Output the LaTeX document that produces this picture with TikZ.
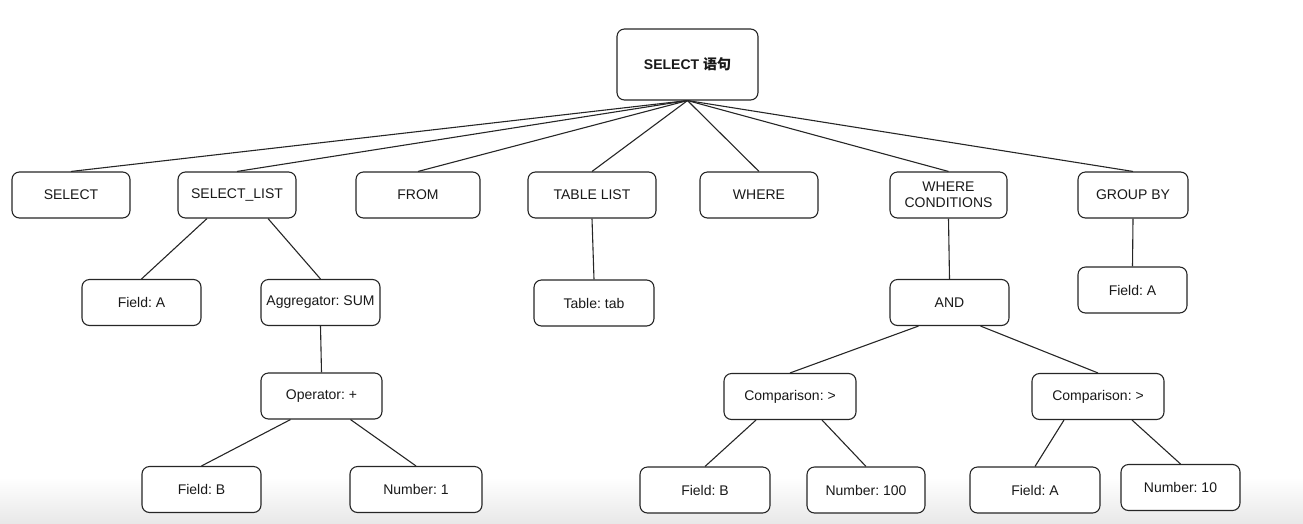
\documentclass[tikz,border=0pt]{standalone}
\usepackage{fontspec}
\setmainfont{Liberation Sans}
\newfontfamily\cjk{Noto Sans CJK SC}
\usetikzlibrary{calc}
\frenchspacing
\tikzset{
  box/.style={draw=black!85, fill=white, line width=1.1pt, rounded corners=7.5pt,
    minimum width=#1, minimum height=46pt, inner sep=2pt, align=center,
    font=\frenchspacing\fontsize{14}{16}\selectfont, text=black!90},
  box/.default=118pt,
  edge/.style={draw=black!85, line width=1.1pt}
}
\begin{document}
\begin{tikzpicture}[x=1pt,y=-1pt]
\useasboundingbox (0,0) rectangle (1303,523);
\shade[top color=white, bottom color=black!9] (0,478) rectangle (1303,523);

\node[box=141pt, minimum height=71pt, font=\bfseries\fontsize{14}{16}\selectfont] (root) at (687.5,64.5) {SELECT {\cjk\bfseries 语句}};

\node[box=118pt] (sel) at (71,195) {SELECT};
\node[box=118pt] (sellist) at (237,195) {SELECT\_LIST};
\node[box=124pt] (from) at (418,195) {FROM};
\node[box=128pt] (tlist) at (592,195) {TABLE LIST};
\node[box=118pt] (where) at (759,195) {WHERE};
\node[box=117pt] (wcond) at (948.5,195) {WHERE\\CONDITIONS};
\node[box=110pt] (group) at (1133,195) {GROUP BY};

\node[box=119pt] (fa) at (141.5,302.5) {Field: A};
\node[box=119pt] (agg) at (320.5,302.5) {Aggregator: SUM};
\node[box=120pt] (tab) at (594,303) {Table: tab};
\node[box=119pt] (and) at (949.5,302.5) {AND};
\node[box=109pt] (ga) at (1132.5,290) {Field: A};

\node[box=121pt] (op) at (321.5,396) {Operator: +};
\node[box=132pt] (cmpa) at (790,396.5) {Comparison: >};
\node[box=132pt] (cmpb) at (1098,396.5) {Comparison: >};

\node[box=119pt] (fb) at (201.5,489.5) {Field: B};
\node[box=132pt] (nb) at (416,489.5) {Number: 1};
\node[box=130pt] (fbb) at (705,490) {Field: B};
\node[box=118pt] (nc) at (866,490) {Number: 100};
\node[box=130pt] (fab) at (1035,490) {Field: A};
\node[box=119pt] (nd) at (1180.5,487.5) {Number: 10};

\foreach \c in {sel,sellist,from,tlist,where,wcond,group}
  \draw[edge] (root.south) -- (\c.north);

\draw[edge] (agg.south) -- (op.north);
\draw[edge] (tlist.south) -- (tab.north);
\draw[edge] (wcond.south) -- (and.north);
\draw[edge] (group.south) -- (ga.north);

\draw[edge] ($(sellist.south)+(-30,0)$) -- (fa.north);
\draw[edge] ($(sellist.south)+(31,0)$) -- (agg.north);
\draw[edge] ($(op.south)+(-31,0)$) -- (fb.north);
\draw[edge] ($(op.south)+(29,0)$) -- (nb.north);
\draw[edge] ($(and.south)+(-31,0)$) -- (cmpa.north);
\draw[edge] ($(and.south)+(31,0)$) -- (cmpb.north);
\draw[edge] ($(cmpa.south)+(-34,0)$) -- (fbb.north);
\draw[edge] ($(cmpa.south)+(32,0)$) -- (nc.north);
\draw[edge] ($(cmpb.south)+(-34,0)$) -- (fab.north);
\draw[edge] ($(cmpb.south)+(34,0)$) -- (nd.north);
\end{tikzpicture}
\end{document}
